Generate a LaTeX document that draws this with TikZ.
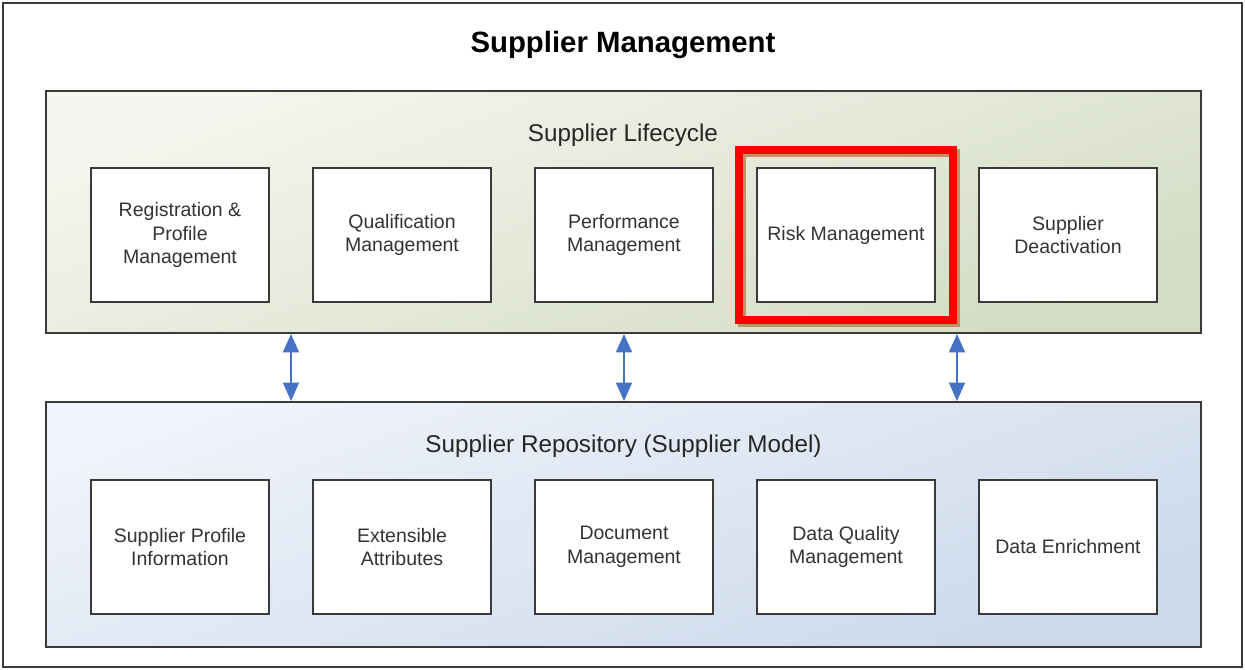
\documentclass[tikz,border=0pt]{standalone}
\usepackage{fontspec}
\setmainfont{Liberation Sans}
\usetikzlibrary{positioning,fit,calc,arrows.meta}

\definecolor{lifeTop}{RGB}{245,246,239}
\definecolor{lifeBot}{RGB}{212,220,196}
\definecolor{repoTop}{RGB}{239,243,250}
\definecolor{repoBot}{RGB}{204,217,235}
\definecolor{linkBlue}{RGB}{68,114,196}
\definecolor{edgeGray}{RGB}{58,58,58}
\definecolor{shadowBrown}{RGB}{190,148,100}

\begin{document}
\begin{tikzpicture}[
    box/.style={draw=edgeGray,line width=1.1pt,fill=white,minimum width=3.56cm,minimum height=2.68cm,
        outer sep=0pt,align=center,font=\fontsize{11.1}{13.3}\selectfont,text=black!80},
    panel/.style={draw=edgeGray,line width=1.1pt,minimum width=23.1cm,inner sep=0pt},
    heading/.style={font=\fontsize{13.8}{16}\selectfont,text=black!85},
    highlight/.style={fit=(risk),inner sep=0.36cm,line width=4.2pt},
    link/.style={color=linkBlue,line width=1.1pt,{Triangle[width=0.32cm,length=0.37cm]}-{Triangle[width=0.32cm,length=0.37cm]}},
    node distance=0.88cm
]
\useasboundingbox (0,0) rectangle (24.9,13.4);
\draw[edgeGray,line width=1.1pt] (0.06,0.06) rectangle (24.84,13.34);

\node[font=\bfseries\fontsize{16.7}{20}\selectfont] (title) at (12.46,12.5) {Supplier Management};

% the two layers
\node[panel,minimum height=4.84cm,top color=lifeTop,bottom color=lifeBot,shading angle=20] (lifecycle) at (12.47,9.16) {};
\node[panel,minimum height=4.9cm,top color=repoTop,bottom color=repoBot,shading angle=20] (repo) at (12.47,2.91) {};
\node[heading] (lifetitle) at (12.46,10.7) {Supplier Lifecycle};
\node[heading] (repotitle) at (12.47,4.47) {Supplier Repository (Supplier Model)};

% lifecycle steps
\node[box] (reg) at (3.6,8.70) {Registration \&\\Profile\\Management};
\node[box,right=of reg] (qual) {Qualification\\Management};
\node[box,right=of qual] (perf) {Performance\\Management};
\node[box,right=of perf] (risk) {Risk Management};
\node[box,right=of risk] (deact) {Supplier\\Deactivation};

% repository parts
\node[box] (profile) at (3.6,2.46) {Supplier Profile\\Information};
\node[box,right=of profile] (attrib) {Extensible\\Attributes};
\node[box,right=of attrib] (docs) {Document\\Management};
\node[box,right=of docs] (quality) {Data Quality\\Management};
\node[box,right=of quality] (enrich) {Data Enrichment};

% marker round risk management
\node[highlight,draw=shadowBrown,xshift=0.06cm,yshift=-0.06cm] (focusshadow) {};
\node[highlight,draw=red] (focus) {};

\coordinate (gapA) at ($(reg.east)!0.5!(qual.west)$);
\coordinate (gapB) at ($(risk.east)!0.5!(deact.west)$);

\path[link] (lifecycle.south -| gapA) edge (repo.north -| gapA)
    (lifecycle.south -| perf) edge (repo.north -| perf)
    (lifecycle.south -| gapB) edge (repo.north -| gapB);
\end{tikzpicture}
\end{document}
